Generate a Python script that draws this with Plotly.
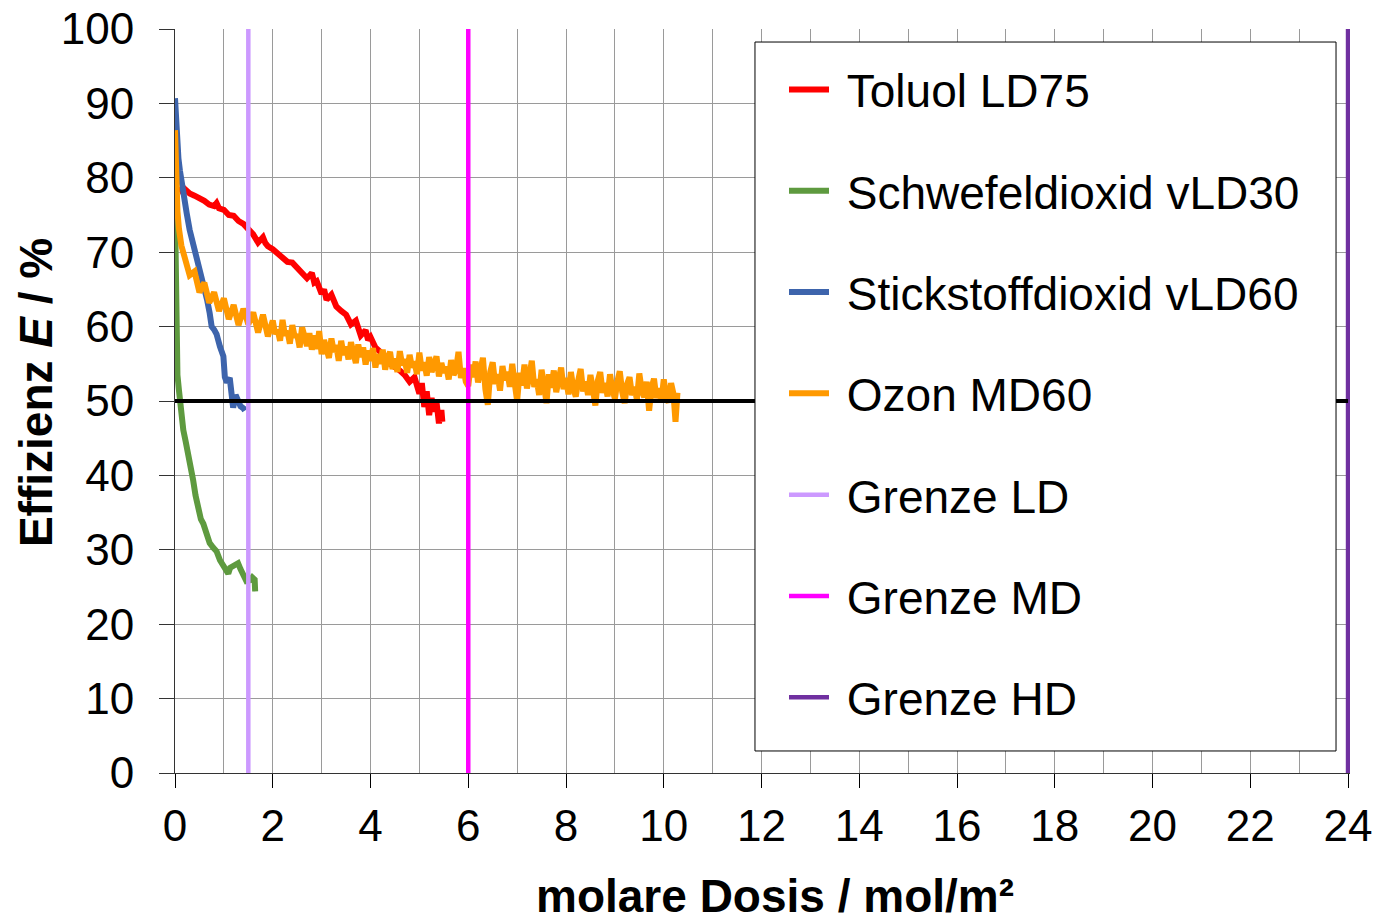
import plotly.graph_objects as go

# molare Dosis (mol/m²) and Effizienz (%)
toluol_x = [0.10, 0.15, 0.2, 0.3, 0.4, 0.5, 0.6, 0.7, 0.8, 0.85, 0.9, 1.0, 1.1, 1.2, 1.3,
            1.4, 1.5, 1.6, 1.7, 1.8, 1.85, 1.9, 2.0, 2.1, 2.2, 2.3, 2.4, 2.5, 2.6, 2.7,
            2.8, 2.85, 2.9, 3.0, 3.05, 3.1, 3.2, 3.3, 3.4, 3.5, 3.6, 3.7, 3.8, 3.9, 3.95,
            4.0, 4.1, 4.2, 4.3, 4.4, 4.5, 4.6, 4.7, 4.8, 4.9, 5.0, 5.05, 5.1, 5.15, 5.2,
            5.25, 5.3, 5.35, 5.4, 5.45, 5.47]
toluol_y = [78.8, 78.2, 78.5, 77.9, 77.6, 77.3, 76.9, 76.4, 76.2, 76.6, 75.9, 75.7, 75.0, 74.9, 74.2,
            73.8, 73.2, 72.4, 71.3, 72.0, 71.2, 70.8, 70.4, 69.8, 69.4, 68.7, 68.6, 67.8, 67.3, 66.5,
            67.2, 65.9, 66.1, 64.4, 65.0, 63.6, 64.3, 62.7, 62.1, 61.6, 60.3, 60.8, 58.8, 59.5, 58.2,
            58.6, 57.2, 56.6, 56.0, 55.0, 54.6, 54.1, 53.5, 52.6, 53.2, 51.0, 52.4, 49.2, 51.3, 48.1,
            50.4, 48.6, 49.9, 47.0, 48.8, 47.2]

so2_x = [0, 0.01, 0.02, 0.03, 0.05, 0.08, 0.1, 0.13, 0.17, 0.22, 0.27, 0.32, 0.37, 0.42, 0.48,
         0.53, 0.58, 0.64, 0.71, 0.78, 0.85, 0.92, 0.99, 1.04, 1.09, 1.13, 1.16, 1.22, 1.29, 1.34,
         1.40, 1.46, 1.53, 1.58, 1.63, 1.64]
so2_y = [75.7, 68.0, 60.0, 56.4, 53.5, 51.5, 50.1, 48.2, 46.1, 44.5, 43.0, 41.2, 39.4, 37.3, 34.9,
         34.1, 33.5, 32.2, 30.9, 30.3, 29.8, 28.6, 27.7, 27.3, 26.8, 27.6, 27.7, 27.9, 28.2, 27.4,
         26.4, 25.8, 25.9, 26.3, 26.0, 24.4]

no2_x = [0, 0.02, 0.04, 0.07, 0.1, 0.15, 0.24, 0.3, 0.37, 0.44, 0.51, 0.56, 0.61, 0.66, 0.71,
         0.75, 0.8, 0.85, 0.92, 0.99, 1.02, 1.06, 1.12, 1.16, 1.19, 1.24, 1.29, 1.34, 1.40, 1.43]
no2_y = [90.7, 87.5, 84.0, 82.6, 81.0, 78.5, 75.2, 73.0, 71.2, 69.6, 67.6, 66.4, 64.5, 63.5, 61.8,
         60.0, 59.6, 59.0, 57.3, 56.0, 53.2, 52.5, 53.1, 51.0, 49.1, 50.8, 50.2, 49.3, 49.0, 48.7]

ozon_x = [0, 0.01, 0.03, 0.05, 0.08, 0.1, 0.13, 0.16,
          0.2, 0.3, 0.4, 0.5, 0.6, 0.7, 0.8, 0.9, 1.0, 1.1, 1.2, 1.3, 1.4, 1.5, 1.6, 1.7, 1.8, 1.9,
          2.00, 2.05, 2.10, 2.15, 2.20, 2.25, 2.30, 2.35, 2.40, 2.45, 2.50, 2.55, 2.60, 2.65, 2.70,
          2.75, 2.80, 2.85, 2.90, 2.95,
          3.00, 3.05, 3.10, 3.15, 3.20, 3.25, 3.30, 3.35, 3.40, 3.45, 3.50, 3.55, 3.60, 3.65, 3.70,
          3.75, 3.80, 3.85, 3.90, 3.95,
          4.00, 4.05, 4.10, 4.15, 4.20, 4.25, 4.30, 4.35, 4.40, 4.45, 4.50, 4.55, 4.60, 4.65, 4.70,
          4.75, 4.80, 4.85, 4.90, 4.95,
          5.00, 5.05, 5.10, 5.15, 5.20, 5.25, 5.30, 5.35, 5.40, 5.45, 5.50, 5.55, 5.60, 5.65, 5.70,
          5.75, 5.80, 5.85, 5.90, 5.95,
          6.00, 6.05, 6.10, 6.15, 6.20, 6.25, 6.30, 6.35, 6.40, 6.45, 6.50, 6.55, 6.60, 6.65, 6.70,
          6.75, 6.80, 6.85, 6.90, 6.95,
          7.00, 7.05, 7.10, 7.15, 7.20, 7.25, 7.30, 7.35, 7.40, 7.45, 7.50, 7.55, 7.60, 7.65, 7.70,
          7.75, 7.80, 7.85, 7.90, 7.95,
          8.00, 8.05, 8.10, 8.15, 8.20, 8.25, 8.30, 8.35, 8.40, 8.45, 8.50, 8.55, 8.60, 8.65, 8.70,
          8.75, 8.80, 8.85, 8.90, 8.95,
          9.00, 9.05, 9.10, 9.15, 9.20, 9.25, 9.30, 9.35, 9.40, 9.45, 9.50, 9.55, 9.60, 9.65, 9.70,
          9.75, 9.80, 9.85, 9.90, 9.95,
          10.00, 10.05, 10.10, 10.15, 10.20, 10.24, 10.26, 10.28]
ozon_y = [86.4, 82.5, 78.0, 75.5, 73.2, 71.8, 70.9, 70.2,
          69.3, 66.9, 67.4, 64.6, 65.9, 63.2, 64.6, 62.1, 63.8, 61.0, 62.9, 60.2, 62.4, 60.3, 61.9, 59.2, 61.6, 58.7,
          60.8, 59.0, 59.6, 58.1, 60.9, 58.8, 59.4, 57.7, 60.2, 58.6, 58.9, 57.2, 59.9, 58.5, 57.4,
          59.1, 56.9, 58.8, 57.0, 59.4,
          56.3, 58.2, 57.1, 55.8, 58.4, 56.6, 57.5, 55.4, 58.1, 56.2, 57.3, 55.6, 57.9, 56.4, 55.1,
          57.6, 55.9, 57.2, 54.9, 56.8,
          55.4, 57.1, 54.5, 56.3, 55.0, 56.9, 54.2, 55.8, 56.6, 54.3, 55.7, 53.9, 56.7, 54.8, 55.6,
          53.8, 56.2, 54.5, 55.3, 53.6,
          56.5, 54.1, 55.2, 53.4, 55.9, 53.9, 54.7, 56.0, 53.3, 55.1, 53.8, 54.6, 52.9, 55.5, 53.5,
          54.2, 56.6, 53.1, 54.4, 52.6,
          52.0, 54.9, 53.2, 55.3, 52.5, 54.3, 55.8, 51.6, 49.5, 53.9, 55.2, 52.3, 53.6, 51.4, 54.7,
          52.8, 53.9, 51.9, 55.0, 52.4,
          50.0, 53.8, 52.1, 54.9, 51.7, 53.3, 55.4, 51.9, 52.9, 50.8, 54.2, 52.2, 49.7, 53.6, 51.8,
          54.1, 51.2, 52.9, 54.5, 51.6,
          53.1, 50.9, 53.9, 51.7, 50.6, 52.8, 54.3, 51.3, 52.6, 50.8, 53.5, 51.6, 49.4, 52.7, 53.9,
          51.1, 52.4, 50.6, 53.6, 51.5,
          50.3, 52.6, 54.0, 51.2, 49.7, 52.3, 53.2, 50.8, 51.9, 50.2, 53.7, 51.4, 50.5, 52.6, 48.7,
          51.8, 53.0, 50.4, 51.7, 49.9,
          52.9, 50.6, 49.8, 52.4, 50.9, 47.2, 50.3, 51.1]

grenze_names = ["Grenze LD", "Grenze MD", "Grenze HD"]
grenze_x = [1.5, 6.0, 24.0]
ziel_y = 50

FONT = "Liberation Sans, Arial, sans-serif"

fig = go.Figure()

series = [
    ("Toluol LD75", toluol_x, toluol_y, "#FF0000"),
    ("Schwefeldioxid vLD30", so2_x, so2_y, "#5E9A3F"),
    ("Stickstoffdioxid vLD60", no2_x, no2_y, "#3D64AC"),
    ("Ozon MD60", ozon_x, ozon_y, "#FF9900"),
]
# leading no-break space gives the gap between legend line and text
for name, x, y, c in series:
    fig.add_trace(go.Scatter(x=x, y=y, mode="lines", name="\u00a0" + name, legendgroup=name,
                             line=dict(color=c, width=6)))

grenze_colors = ["#CC99FF", "#FF00FF", "#7030A0"]
for name, gx, c in zip(grenze_names, grenze_x, grenze_colors):
    fig.add_trace(go.Scatter(x=[gx, gx], y=[0, 100], mode="lines", name="\u00a0" + name,
                             legendgroup=name, line=dict(color=c, width=4.5)))

# 50 % line
fig.add_trace(go.Scatter(x=[0, 24], y=[ziel_y, ziel_y], mode="lines", showlegend=False,
                         line=dict(color="black", width=4)))

fig.update_xaxes(
    range=[0, 24.04], dtick=2, tick0=0, automargin=False, ticklabeloverflow="allow",
    showgrid=True, gridcolor="#9a9a9a", gridwidth=1,
    minor=dict(dtick=1, showgrid=True, gridcolor="#9a9a9a", gridwidth=1, ticks=""),
    ticks="outside", ticklen=14, tickcolor="black", tickwidth=1,
    showline=True, linecolor="#333333", linewidth=1,
    tickfont=dict(family=FONT, size=44, color="black"),
    ticklabelstandoff=0, zeroline=False,
)
fig.update_yaxes(
    range=[0, 100], dtick=10, automargin=False, ticklabeloverflow="allow",
    showgrid=True, gridcolor="#9a9a9a", gridwidth=1,
    ticks="outside", ticklen=15, tickcolor="#333333", tickwidth=1,
    showline=True, linecolor="#333333", linewidth=1,
    tickfont=dict(family=FONT, size=44, color="black"),
    ticklabelstandoff=16, zeroline=False,
)

fig.add_annotation(text="<b>molare Dosis / mol/m²</b>", xref="paper", yref="paper",
                   x=0.5106, y=-0.1653, xanchor="center", yanchor="middle", showarrow=False,
                   font=dict(family=FONT, size=46, color="black"))
fig.add_annotation(text="<b>Effizienz <i>E</i> / %</b>", xref="paper", yref="paper",
                   x=-0.1183, y=0.512, xanchor="center", yanchor="middle", showarrow=False,
                   textangle=-90, font=dict(family=FONT, size=46, color="black"))

# legend frame (white box hiding the grid behind the legend)
fig.add_shape(type="rect", xref="paper", yref="paper", x0=0.4936, x1=0.9881, y0=0.0296, y1=0.9825,
              fillcolor="white", line=dict(color="black", width=1), layer="above")

# page body adds an 8 px offset, so the figure is a bit smaller than the window
fig.update_layout(
    width=1372, height=906,
    margin=dict(l=167, r=30, t=21, b=141),
    plot_bgcolor="white", paper_bgcolor="white",
    font=dict(family=FONT, color="black"),
    legend=dict(
        x=0.5183, y=0.9677, xanchor="left", yanchor="top",
        bgcolor="rgba(0,0,0,0)", borderwidth=0,
        font=dict(family=FONT, size=46, color="black"),
        tracegroupgap=38.5, itemwidth=40,
    ),
)

fig.write_html("out.html")
